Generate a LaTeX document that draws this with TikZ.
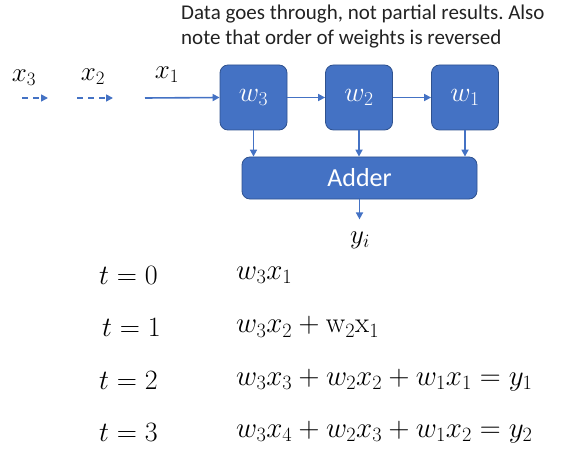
\RequirePackage{fix-cm}
\documentclass[tikz,border=0pt]{standalone}
\usepackage[no-math]{fontspec}
\newfontfamily\calibri{Carlito}
\usetikzlibrary{arrows.meta}
\definecolor{boxfill}{HTML}{4472C4}
\definecolor{boxline}{HTML}{2F528F}
\definecolor{txt}{HTML}{222222}
\frenchspacing
\begin{document}
\begin{tikzpicture}[x=1pt,y=-1pt,
  wbox/.style={draw=boxline,fill=boxfill,line width=0.8pt,rounded corners=8pt,minimum width=67pt,minimum height=65pt,inner sep=0pt,text=white,font=\fontsize{28}{30}\selectfont},
  conn/.style={draw=boxfill,line width=1.6pt,-{Triangle[length=7pt,width=7pt]}},
  dconn/.style={conn,dash pattern=on 6pt off 5pt},
  lbl/.style={inner sep=0pt,font=\fontsize{27}{30}\selectfont,text=black},
  eq/.style={anchor=west,inner sep=0pt,font=\fontsize{29}{32}\selectfont,text=black}]
\useasboundingbox (0,0) rectangle (575,457);
% note
\node[anchor=north west,inner sep=0pt,align=left,text=txt,font=\calibri\fontsize{21}{25}\selectfont] (note) at (181,5) {Data goes through, not partial results. Also\\note that order of weights is reversed};
% boxes
\node[wbox] (w3) at (253.5,97.5) {$w_3$};
\node[wbox] (w2) at (359,97.5) {$w_2$};
\node[wbox] (w1) at (465,97.5) {$w_1$};
\node[wbox,minimum width=235pt,minimum height=42pt,font=\calibri\fontsize{26}{30}\selectfont] (add) at (359.5,178) {Adder};
% inputs
\node[lbl] (x3) at (24,78) {$x_3$};
\node[lbl] (x2) at (93,77) {$x_2$};
\node[lbl] (x1) at (167,75) {$x_1$};
\coordinate (x3s) at (22,98); \coordinate (x3e) at (48,98);
\coordinate (x2s) at (77,98); \coordinate (x2e) at (113,98);
\coordinate (x1s) at (145,98);
\draw[dconn] (x3s) -- (x3e);
\draw[dconn] (x2s) -- (x2e);
\draw[conn] (x1s) -- (w3.west);
\draw[conn] (w3.east) -- (w2.west);
\draw[conn] (w2.east) -- (w1.west);
\draw[conn] (w3.south) -- (w3.south |- add.north);
\draw[conn] (w2.south) -- (w2.south |- add.north);
\draw[conn] (w1.south) -- (w1.south |- add.north);
\node[lbl] (y) at (360,240) {$y_i$};
\draw[conn] (add.south) -- ++(0,20);
% equations
\node[eq,font=\fontsize{28}{32}\selectfont] (t0) at (99,275) {$t=0$};
\node[eq,font=\fontsize{28}{32}\selectfont] (t1) at (102,327) {$t=1$};
\node[eq,font=\fontsize{28}{32}\selectfont] (t2) at (99,380) {$t=2$};
\node[eq,font=\fontsize{28}{32}\selectfont] (t3) at (99,432) {$t=3$};
\node[eq] (e0) at (236,275) {$w_3x_1$};
\node[eq] (e1) at (236,327) {$w_3x_2+\mathrm{w}_2\mathrm{x}_1$};
\node[eq] (e2) at (236,380) {$w_3x_3+w_2x_2+w_1x_1=y_1$};
\node[eq] (e3) at (236,432) {$w_3x_4+w_2x_3+w_1x_2=y_2$};
\end{tikzpicture}
\end{document}
